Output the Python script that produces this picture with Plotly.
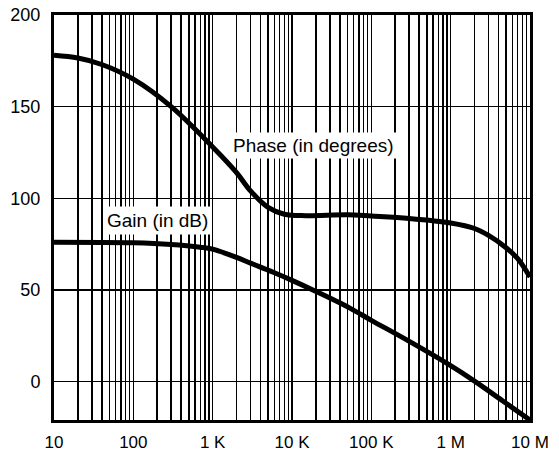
import plotly.graph_objects as go

# Data
phase_freq = [10, 20, 40, 100, 300, 1000, 2000, 3000, 5000, 8000, 15000, 50000, 100000, 300000, 1000000, 2000000, 3000000, 5000000, 7000000, 10000000]
phase_deg = [178, 176.5, 173, 165, 150, 128, 114, 104, 95, 91.3, 90.5, 91, 90.3, 89, 86.5, 83.5, 79.7, 73, 67, 57]

gain_freq = [10, 100, 300, 700, 1000, 2000, 3000, 5800, 10000, 19500, 53000, 100000, 290000, 890000, 2000000, 4500000, 10000000]
gain_db = [76, 75.7, 74.8, 73.3, 72.2, 67.7, 64.6, 59.6, 55.2, 49.4, 40.2, 33.4, 22.3, 10, 0.2, -10.5, -21]

decade_vals = [10, 100, 1000, 10000, 100000, 1000000, 10000000]
decade_labels = ["10", "100", "1 K", "10 K", "100 K", "1 M", "10 M"]
y_ticks = [0, 50, 100, 150, 200]
y_labels = ["0", "50", "100", "150", "200"]

minor_vals = [m * d for d in decade_vals[:-1] for m in range(2, 10)]

FONT = "Liberation Sans, Arial, Helvetica, sans-serif"

fig = go.Figure()
fig.add_trace(go.Scatter(x=phase_freq, y=phase_deg, mode="lines",
                         line=dict(color="black", width=5, shape="spline", smoothing=1.0),
                         showlegend=False, hoverinfo="skip"))
fig.add_trace(go.Scatter(x=gain_freq, y=gain_db, mode="lines",
                         line=dict(color="black", width=5, shape="spline", smoothing=1.0),
                         showlegend=False, hoverinfo="skip"))

fig.add_annotation(x=4.265, y=129, xref="x", yref="y", text="Phase (in degrees)",
                   showarrow=False, bgcolor="white", borderpad=2,
                   font=dict(family=FONT, size=19, color="black"))
fig.add_annotation(x=2.31, y=87.8, xref="x", yref="y", text="Gain (in dB)",
                   showarrow=False, bgcolor="white", borderpad=3,
                   font=dict(family=FONT, size=19, color="black"))

fig.update_layout(
    width=559, height=453,
    margin=dict(l=54, r=29, t=15, b=33),
    paper_bgcolor="white", plot_bgcolor="white",
    font=dict(family=FONT, size=18, color="black"),
    xaxis=dict(type="log", range=[1, 7], tickvals=decade_vals, ticktext=decade_labels,
               showgrid=True, gridcolor="black", gridwidth=1.5,
               minor=dict(tickvals=minor_vals, showgrid=True, gridcolor="black", gridwidth=1.5, ticks=""),
               ticks="", showline=True, linecolor="black", linewidth=3, mirror=True,
               zeroline=False, ticklabelstandoff=5, automargin=False,
               ticklabeloverflow="allow", tickfont=dict(size=17)),
    yaxis=dict(range=[-21, 200], tickvals=y_ticks, ticktext=y_labels,
               showgrid=True, gridcolor="black", gridwidth=1.5,
               ticks="", showline=True, linecolor="black", linewidth=3, mirror=True,
               zeroline=False, ticklabelstandoff=7, automargin=False,
               ticklabeloverflow="allow", tickfont=dict(size=18)),
)

# remove the browser's default 8px body margin so the figure fills the window
fig.write_html("out.html",
               config={"displayModeBar": False, "staticPlot": True},
               post_script="document.body.style.margin='0';document.body.style.overflow='hidden';")
